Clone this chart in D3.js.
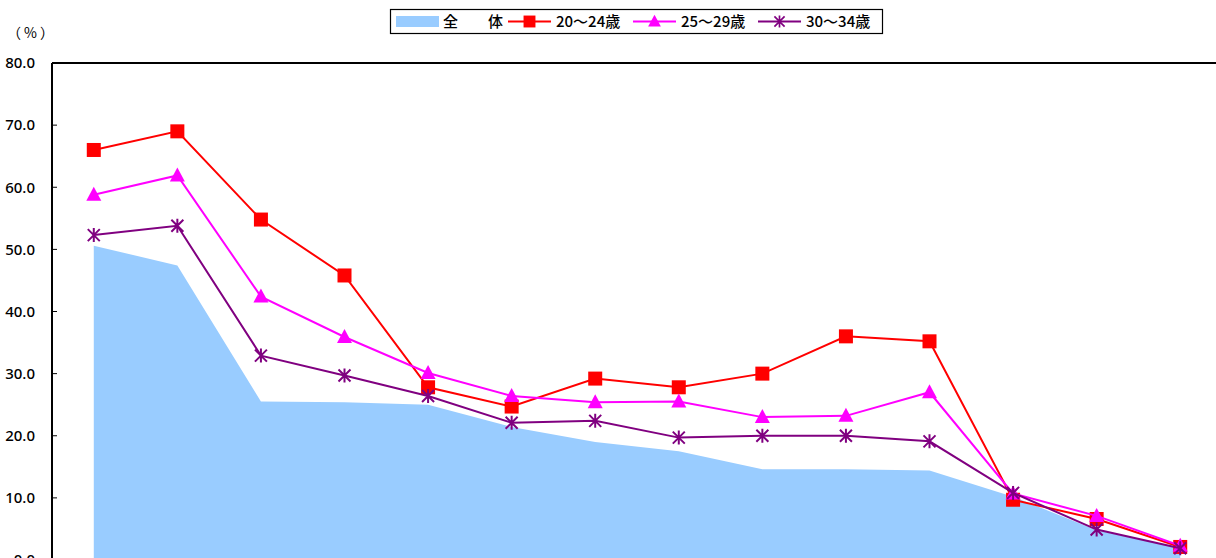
<!DOCTYPE html>
<html>
<head>
<meta charset="utf-8">
<script src="https://cdn.jsdelivr.net/npm/d3@7"></script>
<style>
  body { margin: 0; background: #fff; }
  svg { display: block; font-family: "Noto Sans CJK JP", "Noto Sans", sans-serif; }
</style>
</head>
<body>
<div id="chart"></div>
<script>
// categories (x labels fall below the visible area)
var categories = ['1', '2', '3', '4', '5', '6', '7', '8', '9', '10', '11', '12', '13', '14'];

var seriesNames = ['全　　体', '20〜24歳', '25〜29歳', '30〜34歳'];

var total = [50.6, 47.4, 25.5, 25.4, 25.0, 21.4, 19.0, 17.5, 14.6, 14.6, 14.4, 10.2, 4.8, 1.9];
var age20 = [66.0, 69.0, 54.8, 45.8, 27.8, 24.7, 29.2, 27.8, 30.0, 36.0, 35.2, 9.7, 6.6, 2.1];
var age25 = [58.8, 61.9, 42.4, 35.9, 30.1, 26.4, 25.4, 25.5, 23.0, 23.2, 27.0, 10.7, 7.1, 2.3];
var age30 = [52.3, 53.8, 32.9, 29.7, 26.4, 22.1, 22.4, 19.7, 20.0, 20.0, 19.1, 10.8, 4.9, 1.9];

var yTicks = [0, 10, 20, 30, 40, 50, 60, 70, 80];

var width = 1216, height = 558;
var plotLeft = 52, plotTop = 63, plotRight = 1222, plotBottom = 560;

var svg = d3.select('#chart').append('svg')
  .attr('width', width)
  .attr('height', height);

var x = d3.scalePoint().domain(categories).range([plotLeft, plotRight]).padding(0.5);
var y = d3.scaleLinear().domain([0, 80]).range([plotBottom, plotTop]);

// area for the total
var area = d3.area()
  .x(function(d, i){ return x(categories[i]); })
  .y0(y(0))
  .y1(function(d){ return y(d); });

svg.append('path')
  .datum(total)
  .attr('fill', '#99ccff')
  .attr('d', area);

// axes
var yAxis = d3.axisLeft(y).tickValues(yTicks).tickSize(0).tickPadding(17)
  .tickFormat(function(d){ return d.toFixed(1); });

var gy = svg.append('g').attr('transform', 'translate(' + plotLeft + ',0)').call(yAxis);
gy.select('.domain').remove();
gy.selectAll('text').attr('font-size', 15).attr('fill', '#000').attr('font-weight', 500)
  .attr('font-family', '"Noto Sans", sans-serif');

svg.append('g').selectAll('line').data(yTicks).enter().append('line')
  .attr('x1', plotLeft).attr('x2', plotLeft + 5)
  .attr('y1', function(d){ return y(d); })
  .attr('y2', function(d){ return y(d); })
  .attr('stroke', '#000').attr('stroke-width', 1);

svg.append('line')
  .attr('x1', plotLeft).attr('x2', plotLeft).attr('y1', plotTop).attr('y2', plotBottom + 10)
  .attr('stroke', '#000').attr('stroke-width', 2);
svg.append('line')
  .attr('x1', plotLeft).attr('x2', width + 10).attr('y1', plotTop).attr('y2', plotTop)
  .attr('stroke', '#000').attr('stroke-width', 2);

svg.append('text')
  .attr('x', 7).attr('y', 38)
  .attr('font-size', 14).attr('fill', '#000').attr('letter-spacing', 3)
  .text('（%）');

// markers
var drawMarker = function(g, kind, color){
  if (kind === 'square') {
    g.append('rect').attr('x', -7).attr('y', -7).attr('width', 14).attr('height', 14)
      .attr('fill', color);
  } else if (kind === 'triangle') {
    g.append('path').attr('d', 'M0,-8L7.5,6L-7.5,6Z').attr('fill', color);
  } else {
    g.append('path').attr('d', 'M-6,-6L6,6M-6,6L6,-6M0,-7L0,7')
      .attr('stroke', color).attr('stroke-width', 2).attr('fill', 'none');
  }
};

var line = d3.line()
  .x(function(d, i){ return x(categories[i]); })
  .y(function(d){ return y(d); });

var lineSeries = [
  {values: age20, color: '#ff0000', marker: 'square'},
  {values: age25, color: '#ff00ff', marker: 'triangle'},
  {values: age30, color: '#800080', marker: 'star'}
];

lineSeries.forEach(function(s){
  svg.append('path')
    .datum(s.values)
    .attr('fill', 'none')
    .attr('stroke', s.color)
    .attr('stroke-width', 2)
    .attr('d', line);

  svg.append('g').selectAll('g').data(s.values).enter().append('g')
    .attr('transform', function(d, i){ return 'translate(' + x(categories[i]) + ',' + y(d) + ')'; })
    .each(function(){ drawMarker(d3.select(this), s.marker, s.color); });
});

// legend
var legend = svg.append('g');
legend.append('rect')
  .attr('x', 390.5).attr('y', 9.5).attr('width', 492).attr('height', 24)
  .attr('fill', '#fff').attr('stroke', '#000').attr('stroke-width', 1.2);

legend.append('rect').attr('x', 396).attr('y', 16).attr('width', 43).attr('height', 11)
  .attr('fill', '#99ccff');
legend.append('text').attr('x', 443).attr('y', 27).attr('font-size', 15).attr('font-weight', 500)
  .text(seriesNames[0]);

var legendX = [508, 633, 758];
lineSeries.forEach(function(s, i){
  var lx = legendX[i];
  legend.append('line').attr('x1', lx).attr('x2', lx + 43).attr('y1', 21.5).attr('y2', 21.5)
    .attr('stroke', s.color).attr('stroke-width', 2);
  var m = legend.append('g');
  drawMarker(m, s.marker, s.color);
  m.attr('transform', 'translate(' + (lx + 21.5) + ',21.5) scale(0.85)');
  legend.append('text').attr('x', lx + 48).attr('y', 27).attr('font-size', 15).attr('font-weight', 500)
    .text(seriesNames[i + 1]);
});
</script>
</body>
</html>
